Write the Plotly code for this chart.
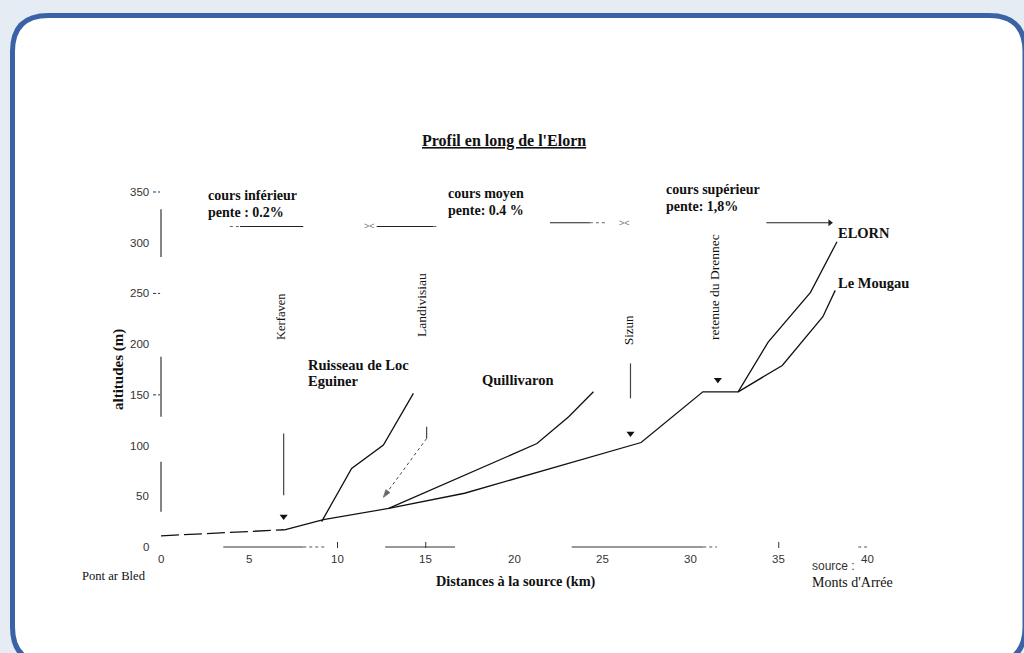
import plotly.graph_objects as go

# ---------------- data (km from mouth, altitude m) ----------------
elorn_dashed_x = [0, 7]
elorn_dashed_y = [11, 17]
elorn_x = [7, 9.2, 12.9, 17.2, 27.2, 30.7, 32.7, 34.4, 36.8, 38.3]
elorn_y = [17, 27, 38, 53, 103, 153, 153, 202, 251, 301]
mougau_x = [32.7, 35.2, 37.5, 38.2]
mougau_y = [153, 179, 227, 253]
ruisseau_x = [9.1, 10.8, 12.6, 14.3]
ruisseau_y = [25, 77.5, 100.5, 151.5]
quilli_x = [12.9, 21.3, 23.1, 24.5]
quilli_y = [38, 102, 128.5, 153]

# place markers (inverted triangles) and their vertical guide lines
marker_names = ["Kerfaven", "Sizun", "retenue du Drennec"]
marker_x = [6.95, 26.6, 31.55]
marker_y = [30, 112, 165]
guide_x = [6.95, 26.6, 15.05]
guide_y0 = [51, 146.6, 107]
guide_y1 = [112, 181, 118.6]
landi_arrow_x = [15.05, 12.6]
landi_arrow_y = [107, 49]

# axis ticks
x_ticks = [0, 5, 10, 15, 20, 25, 30, 35, 40]
y_ticks = [0, 50, 100, 150, 200, 250, 300, 350]

# fragments of the scanned axes
yaxis_frag = [(286, 333), (128.5, 187.6), (34.8, 84)]
xaxis_solid = [(3.53, 8.06), (12.7, 16.66), (23.27, 30.72)]
xaxis_dotted = [(8.06, 9.4), (30.72, 31.5), (39.5, 40)]
xaxis_tickmarks = [10, 15, 35]
ytick_dashes = [350, 250, 150]

# course segments (top arrows): (x start, x end, altitude)
course_solid = [(4.48, 8.06, 316), (12.22, 15.43, 316), (22.04, 24.3, 319.7), (34.3, 37.9, 319.7)]
course_dotted = [(3.9, 4.48, 316), (15.43, 15.7, 316), (24.3, 25.25, 319.7)]
course_cross_x = [11.8, 26.25]
course_cross_y = [316, 319.7]

W, H = 1024, 653
# pixel geometry of the plot area
PX_PER_KM = 17.65
PX_PER_M = 355 / 350
X0PX, Y0PX = 161, 547
XR = [-1, 41]
YR = [-10, 360]
xd0 = (X0PX + XR[0] * PX_PER_KM) / W
xd1 = (X0PX + XR[1] * PX_PER_KM) / W
yd0 = (H - (Y0PX - YR[0] * PX_PER_M)) / H
yd1 = (H - (Y0PX - YR[1] * PX_PER_M)) / H


def px(x):
    return x / W


def py(y):
    return 1 - y / H


def seg_trace(segs, y=None, dash="solid", color="#222", width=1.2):
    xs, ys = [], []
    for s in segs:
        if y is None:
            xs += [s[0], s[1], None]
            ys += [s[2], s[2], None]
        else:
            xs += [s[0], s[1], None]
            ys += [y, y, None]
    return go.Scatter(x=xs, y=ys, mode="lines", line=dict(color=color, width=width, dash=dash),
                      hoverinfo="skip", showlegend=False)


fig = go.Figure()
BLACK = "#111"

# rivers
fig.add_trace(go.Scatter(x=elorn_dashed_x, y=elorn_dashed_y, mode="lines",
                         line=dict(color=BLACK, width=1.3, dash="18px,5px"), showlegend=False))
for xs, ys, nm in [(elorn_x, elorn_y, "Elorn"), (mougau_x, mougau_y, "Le Mougau"),
                   (ruisseau_x, ruisseau_y, "Ruisseau de Loc Eguiner"), (quilli_x, quilli_y, "Quillivaron")]:
    fig.add_trace(go.Scatter(x=xs, y=ys, mode="lines", name=nm,
                             line=dict(color=BLACK, width=1.3), showlegend=False))

# markers
fig.add_trace(go.Scatter(x=marker_x, y=marker_y, mode="markers", text=marker_names,
                         marker=dict(symbol="triangle-down", size=7, color=BLACK), showlegend=False))

# vertical guides
gx, gy = [], []
for x, a, b in zip(guide_x, guide_y0, guide_y1):
    gx += [x, x, None]
    gy += [a, b, None]
fig.add_trace(go.Scatter(x=gx, y=gy, mode="lines", line=dict(color="#444", width=1.2),
                         hoverinfo="skip", showlegend=False))
# Landivisiau dotted arrow
fig.add_trace(go.Scatter(x=landi_arrow_x, y=landi_arrow_y, mode="lines+markers",
                         line=dict(color="#444", width=1, dash="dot"),
                         marker=dict(symbol=["circle", "arrow"], size=[0, 8], color="#222",
                                     angleref="previous"),
                         hoverinfo="skip", showlegend=False))

# axis fragments
yfx, yfy = [], []
for a, b in yaxis_frag:
    yfx += [0, 0, None]
    yfy += [a, b, None]
fig.add_trace(go.Scatter(x=yfx, y=yfy, mode="lines", line=dict(color="#333", width=1.2),
                         hoverinfo="skip", showlegend=False))
fig.add_trace(seg_trace(xaxis_solid, y=0, color="#333", width=1.2))
fig.add_trace(seg_trace(xaxis_dotted, y=0, dash="dot", color="#555", width=1))
tmx, tmy = [], []
for t in xaxis_tickmarks:
    tmx += [t, t, None]
    tmy += [-1, 5, None]
fig.add_trace(go.Scatter(x=tmx, y=tmy, mode="lines", line=dict(color="#333", width=1),
                         hoverinfo="skip", showlegend=False))
tdx, tdy = [], []
for t in ytick_dashes:
    tdx += [-0.45, -0.05, None]
    tdy += [t, t, None]
fig.add_trace(go.Scatter(x=tdx, y=tdy, mode="lines", line=dict(color="#333", width=1, dash="3px,2px"),
                         hoverinfo="skip", showlegend=False))

# course arrows
fig.add_trace(seg_trace(course_solid, color="#222", width=1.2))
fig.add_trace(seg_trace(course_dotted, dash="dot", color="#666", width=1))
fig.add_trace(go.Scatter(x=[course_solid[-1][1]], y=[course_solid[-1][2]], mode="markers",
                         marker=dict(symbol="triangle-right", size=6, color="#222"),
                         hoverinfo="skip", showlegend=False))
for cx, cy in zip(course_cross_x, course_cross_y):
    fig.add_annotation(x=cx, y=cy, xref="x", yref="y", text="&gt;&lt;", showarrow=False,
                       font=dict(family="Liberation Sans", size=9, color="#777"))

SANS = "Liberation Sans"
SERIF = "Liberation Serif"

# tick labels
for t in x_ticks:
    fig.add_annotation(x=t, y=0, xref="x", yref="y", text=str(t), showarrow=False, yshift=-12,
                       font=dict(family=SANS, size=11.5, color="#333"))
for t in y_ticks:
    fig.add_annotation(x=px(151), y=t, xref="paper", yref="y", text=str(t), showarrow=False,
                       xanchor="right", font=dict(family=SANS, size=11.5, color="#333"))


def label(x, y, text, size=11, bold=True, anchor="left", angle=0, color="#111", family=SERIF):
    t = f"<b>{text}</b>" if bold else text
    fig.add_annotation(x=px(x), y=py(y), xref="paper", yref="paper", text=t, showarrow=False,
                       xanchor=anchor, yanchor="middle", textangle=angle,
                       font=dict(family=family, size=size, color=color))


label(504, 141, "<u>Profil en long de l'Elorn</u>", size=16, anchor="center")
label(206, 196, "cours inférieur", size=14)
label(206, 213, "pente : 0.2%", size=14)
label(446, 193, "cours moyen", size=14)
label(446, 210, "pente: 0.4 %", size=14)
label(664, 189, "cours supérieur", size=14)
label(664, 206, "pente: 1,8%", size=14)
label(836, 233, "ELORN", size=14.5)
label(836, 283, "Le Mougau", size=14.5)
label(306, 365, "Ruisseau de Loc", size=14.5)
label(306, 381, "Eguiner", size=14.5)
label(480, 380, "Quillivaron", size=14.5)
label(281, 317, "Kerfaven", size=12.5, bold=False, anchor="center", angle=-90)
label(421, 305, "Landivisiau", size=13.5, bold=False, anchor="center", angle=-90)
label(628, 330, "Sizun", size=13, bold=False, anchor="center", angle=-90)
label(714, 287, "retenue du Drennec", size=13.5, bold=False, anchor="center", angle=-90)
label(118, 370, "altitudes (m)", size=15, anchor="center", angle=-90)
label(516, 581, "Distances à la source (km)", size=14.3, anchor="center")
label(80, 576, "Pont ar Bled", size=12.6, bold=False)
label(810, 566, "source :", size=12, bold=False, family=SANS, color="#333")
label(810, 582, "Monts d'Arrée", size=14, bold=False)

# rounded frame
x0, y0, x1, y1, r = 12.5, 15.5, 1025, 663, 36
path = (f"M {px(x0 + r)},{py(y0)} L {px(x1 - r)},{py(y0)} Q {px(x1)},{py(y0)} {px(x1)},{py(y0 + r)} "
        f"L {px(x1)},{py(y1 - r)} Q {px(x1)},{py(y1)} {px(x1 - r)},{py(y1)} "
        f"L {px(x0 + r)},{py(y1)} Q {px(x0)},{py(y1)} {px(x0)},{py(y1 - r)} "
        f"L {px(x0)},{py(y0 + r)} Q {px(x0)},{py(y0)} {px(x0 + r)},{py(y0)} Z")
fig.add_shape(type="path", path=path, xref="paper", yref="paper", layer="below",
              fillcolor="white", line=dict(color="#3a62a6", width=5))

fig.update_layout(
    width=W, height=H, margin=dict(l=0, r=0, t=0, b=0),
    paper_bgcolor="#e6ecf4", plot_bgcolor="rgba(0,0,0,0)",
    xaxis=dict(domain=[xd0, xd1], range=XR, visible=False, fixedrange=True),
    yaxis=dict(domain=[yd0, yd1], range=YR, visible=False, fixedrange=True),
    showlegend=False,
)

fig.write_html("out.html", config={"displayModeBar": False},
               post_script="document.body.style.margin='0px';document.body.style.overflow='hidden';")
